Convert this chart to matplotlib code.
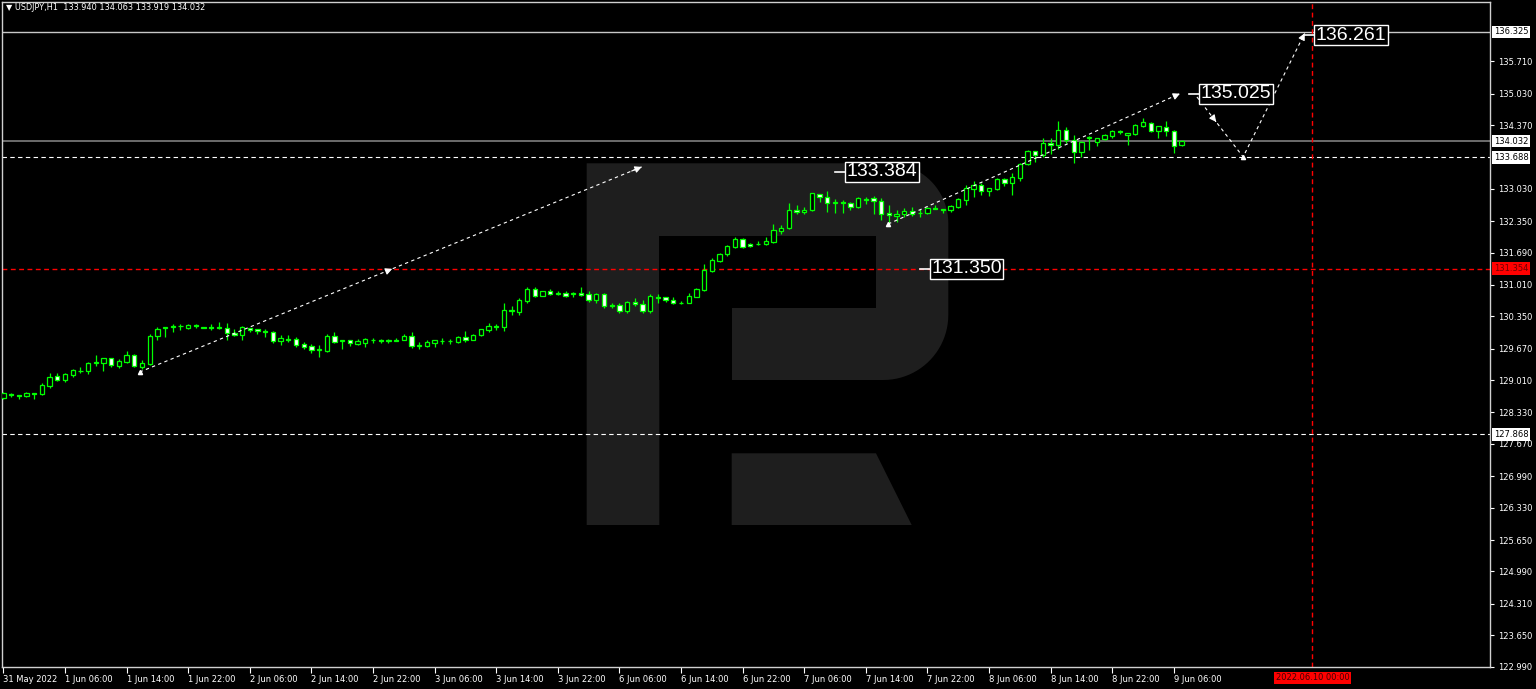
import matplotlib
matplotlib.use('Agg')
import matplotlib.pyplot as plt
import matplotlib.transforms as mtransforms
from matplotlib import font_manager
from matplotlib.patches import Polygon
import numpy as np

W, H = 1536, 689

# USDJPY H1, bar 0 = 31 May 2022 22:00
opens = [128.63, 128.71, 128.69, 128.67, 128.74, 128.71, 128.89, 129.09, 129.01, 129.12,
         129.21, 129.20, 129.38, 129.38, 129.47, 129.31, 129.39, 129.53, 129.29, 129.34,
         129.93, 130.10, 130.13, 130.15, 130.11, 130.17, 130.12, 130.12, 130.12, 130.11,
         130.01, 129.96, 130.11, 130.08, 130.04, 130.02, 129.83, 129.88, 129.88, 129.76,
         129.72, 129.65, 129.63, 129.93, 129.84, 129.85, 129.76, 129.80, 129.86, 129.85,
         129.84, 129.84, 129.86, 129.94, 129.73, 129.73, 129.79, 129.84, 129.83, 129.81,
         129.92, 129.86, 129.95, 130.06, 130.15, 130.12, 130.47, 130.44, 130.67, 130.92,
         130.78, 130.88, 130.82, 130.85, 130.82, 130.85, 130.81, 130.69, 130.81, 130.58,
         130.59, 130.46, 130.65, 130.60, 130.46, 130.76, 130.75, 130.69, 130.62, 130.64,
         130.76, 130.91, 131.31, 131.52, 131.65, 131.81, 131.97, 131.88, 131.86, 131.87,
         131.91, 132.15, 132.20, 132.58, 132.55, 132.58, 132.93, 132.86, 132.73, 132.75,
         132.73, 132.65, 132.82, 132.83, 132.77, 132.52, 132.45, 132.49, 132.56, 132.52,
         132.52, 132.62, 132.59, 132.59, 132.65, 132.80, 133.03, 133.12, 132.98, 133.02,
         133.23, 133.16, 133.26, 133.55, 133.82, 133.74, 133.99, 133.95, 134.26, 134.06,
         133.81, 134.10, 134.01, 134.07, 134.13, 134.24, 134.16, 134.18, 134.35, 134.42,
         134.25, 134.32, 134.24, 133.940]
highs = [128.75, 128.74, 128.70, 128.75, 128.74, 128.94, 129.17, 129.15, 129.15, 129.24,
         129.29, 129.40, 129.54, 129.47, 129.48, 129.45, 129.62, 129.56, 129.43, 129.97,
         130.12, 130.12, 130.18, 130.18, 130.19, 130.19, 130.13, 130.19, 130.23, 130.20,
         130.09, 130.15, 130.11, 130.08, 130.09, 130.04, 129.96, 129.96, 129.91, 129.82,
         129.76, 129.74, 129.98, 130.02, 129.86, 129.86, 129.88, 129.89, 129.89, 129.88,
         129.88, 129.90, 129.97, 130.02, 129.82, 129.86, 129.85, 129.89, 129.88, 129.94,
         130.04, 129.98, 130.09, 130.20, 130.19, 130.63, 130.57, 130.73, 130.96, 130.96,
         130.89, 130.92, 130.88, 130.88, 130.86, 130.97, 130.88, 130.85, 130.83, 130.64,
         130.62, 130.67, 130.74, 130.69, 130.82, 130.81, 130.76, 130.75, 130.68, 130.83,
         130.95, 131.44, 131.58, 131.69, 131.85, 132.02, 132.00, 131.90, 131.93, 132.02,
         132.28, 132.27, 132.73, 132.69, 132.65, 132.95, 132.93, 132.98, 132.82, 132.79,
         132.75, 132.85, 132.86, 132.88, 132.83, 132.68, 132.59, 132.62, 132.64, 132.60,
         132.64, 132.69, 132.61, 132.69, 132.84, 133.10, 133.19, 133.15, 133.05, 133.26,
         133.25, 133.36, 133.58, 133.85, 133.82, 134.10, 134.10, 134.45, 134.32, 134.17,
         134.04, 134.13, 134.10, 134.18, 134.27, 134.27, 134.21, 134.39, 134.51, 134.44,
         134.35, 134.45, 134.27, 134.063]
lows = [128.61, 128.65, 128.61, 128.65, 128.62, 128.70, 128.85, 128.99, 128.96, 129.08,
        129.15, 129.14, 129.31, 129.20, 129.28, 129.26, 129.38, 129.29, 129.24, 129.33,
        129.86, 129.92, 130.03, 130.06, 130.08, 130.10, 130.10, 130.06, 130.09, 129.86,
        129.94, 129.86, 130.03, 129.97, 129.92, 129.80, 129.75, 129.81, 129.70, 129.67,
        129.58, 129.49, 129.60, 129.78, 129.66, 129.72, 129.74, 129.70, 129.80, 129.80,
        129.80, 129.84, 129.85, 129.69, 129.66, 129.70, 129.70, 129.77, 129.77, 129.78,
        129.81, 129.85, 129.94, 130.03, 130.06, 130.05, 130.37, 130.38, 130.64, 130.76,
        130.77, 130.79, 130.79, 130.76, 130.76, 130.78, 130.66, 130.62, 130.52, 130.52,
        130.41, 130.41, 130.57, 130.43, 130.43, 130.64, 130.66, 130.60, 130.60, 130.63,
        130.75, 130.89, 131.29, 131.50, 131.62, 131.79, 131.79, 131.80, 131.84, 131.85,
        131.89, 132.07, 132.18, 132.49, 132.49, 132.56, 132.76, 132.55, 132.53, 132.52,
        132.58, 132.62, 132.71, 132.51, 132.37, 132.31, 132.34, 132.44, 132.46, 132.44,
        132.50, 132.60, 132.53, 132.55, 132.63, 132.69, 132.85, 132.90, 132.88, 133.00,
        133.09, 132.90, 133.20, 133.53, 133.60, 133.70, 133.77, 133.86, 133.99, 133.57,
        133.69, 133.85, 133.92, 134.06, 134.09, 134.18, 133.94, 134.17, 134.32, 134.23,
        134.09, 134.13, 133.79, 133.919]
closes = [128.73, 128.70, 128.68, 128.74, 128.72, 128.90, 129.08, 129.01, 129.13, 129.22,
          129.20, 129.38, 129.39, 129.47, 129.32, 129.41, 129.54, 129.31, 129.36, 129.94,
          130.08, 130.12, 130.15, 130.14, 130.17, 130.15, 130.11, 130.11, 130.10, 130.01,
          129.96, 130.13, 130.07, 130.04, 130.03, 129.83, 129.89, 129.86, 129.74, 129.70,
          129.64, 129.66, 129.93, 129.82, 129.86, 129.78, 129.84, 129.87, 129.85, 129.84,
          129.85, 129.86, 129.94, 129.73, 129.75, 129.82, 129.85, 129.83, 129.84, 129.92,
          129.86, 129.96, 130.08, 130.15, 130.12, 130.48, 130.48, 130.69, 130.93, 130.78,
          130.88, 130.81, 130.85, 130.78, 130.85, 130.79, 130.69, 130.82, 130.57, 130.57,
          130.46, 130.65, 130.60, 130.46, 130.77, 130.74, 130.69, 130.62, 130.63, 130.77,
          130.92, 131.32, 131.53, 131.66, 131.82, 131.97, 131.81, 131.82, 131.88, 131.93,
          132.16, 132.21, 132.59, 132.55, 132.58, 132.94, 132.86, 132.73, 132.75, 132.73,
          132.65, 132.84, 132.80, 132.77, 132.51, 132.47, 132.51, 132.57, 132.50, 132.53,
          132.63, 132.60, 132.61, 132.67, 132.82, 133.05, 133.10, 132.98, 133.04, 133.24,
          133.16, 133.28, 133.55, 133.82, 133.75, 133.99, 133.96, 134.27, 134.06, 133.81,
          134.02, 134.11, 134.09, 134.16, 134.24, 134.22, 134.21, 134.37, 134.43, 134.25,
          134.34, 134.24, 133.93, 134.032]

time_labels = ['31 May 2022', '1 Jun 06:00', '1 Jun 14:00', '1 Jun 22:00', '2 Jun 06:00',
               '2 Jun 14:00', '2 Jun 22:00', '3 Jun 06:00', '3 Jun 14:00', '3 Jun 22:00',
               '6 Jun 06:00', '6 Jun 14:00', '6 Jun 22:00', '7 Jun 06:00', '7 Jun 14:00',
               '7 Jun 22:00', '8 Jun 06:00', '8 Jun 14:00', '8 Jun 22:00', '9 Jun 06:00']
price_ticks = [135.710, 135.030, 134.370, 133.030, 132.350, 131.690, 131.010, 130.350,
               129.670, 129.010, 128.330, 127.670, 126.990, 126.330, 125.650, 124.990,
               124.310, 123.650, 122.990]

top_level = 136.325
bid = 134.032
support = 133.688
low_level = 127.868
red_level = 131.354
red_time_bar = 170          # 2022.06.10 00:00

# forecast path (bar index, price)
trend1_x, trend1_y = [17.7, 82.9], [129.18, 133.49]
trend2_x, trend2_y = [114.9, 152.8], [132.29, 135.03]
zig_x, zig_y = [155.0, 161.0, 169.0], [134.96, 133.70, 136.30]
marks = [(109.3, 133.384), (120.3, 131.350), (155.3, 135.025), (170.2, 136.261)]

GREEN = '#00ff00'

fig = plt.figure(figsize=(W / 100, H / 100), dpi=100, facecolor='black')
ax = fig.add_axes([2 / W, 1 - 667 / H, 1488 / W, 665 / H])
ax.set_facecolor('black')
ax.set_xlim(-0.18, 193.06)
ax.set_ylim(122.982, 136.955)

# watermark logo, drawn in figure pixels
def fp(pts):
    return [(x / W, 1 - y / H) for x, y in pts]

def arc(cx, cy, r, a0, a1, n=24):
    a = np.radians(np.linspace(a0, a1, n))
    return list(zip(cx + r * np.cos(a), cy + r * np.sin(a)))

outer = [(586.7, 163.3)] + arc(888.3, 223.3, 60, -90, 0) + arc(883.3, 315, 65, 0, 90) + \
        [(659.3, 380), (659.3, 525), (586.7, 525)]
hole = [(659.3, 236), (876, 236), (876, 308.3), (731.7, 308.3), (731.7, 380), (659.3, 380)]
leg = [(731.7, 453.3), (876, 453.3), (911.7, 525), (731.7, 525)]
for pts, col in [(outer, '#1e1e1e'), (hole, 'black'), (leg, '#1e1e1e')]:
    ax.add_patch(Polygon(fp(pts), closed=True, fc=col, ec='none',
                         transform=fig.transFigure, zorder=0.5))

# levels
ax.axhline(top_level, color='#c8c8c8', lw=1.0, zorder=1)
ax.axhline(bid, color='#6c6c6c', lw=1.4, zorder=1)
ax.axhline(support, color='white', lw=0.8, dashes=(4, 3), zorder=1)
ax.axhline(low_level, color='white', lw=0.8, dashes=(4, 3), zorder=1)
ax.axhline(red_level, color='#ff0000', lw=1.0, dashes=(3.5, 2.5), zorder=1)
ax.axvline(red_time_bar, color='#ff0000', lw=1.0, dashes=(3.5, 2.5), zorder=1)

# candles
o = np.array(opens); h = np.array(highs); l = np.array(lows); c = np.array(closes)
xs = np.arange(len(o))
ax.vlines(xs, l, h, color=GREEN, lw=0.9, zorder=2)
fills = ['black' if cc >= oo else 'white' for oo, cc in zip(o, c)]
ax.bar(xs, np.abs(c - o), bottom=np.minimum(o, c), width=0.56, color=fills,
       edgecolor=GREEN, linewidth=0.9, zorder=3)

# forecast lines
def head(x0, y0, x1, y1):
    ax.annotate('', xy=(x1, y1), xytext=(x1 - (x1 - x0) * 0.02, y1 - (y1 - y0) * 0.02),
                arrowprops=dict(arrowstyle='-|>,head_length=0.4,head_width=0.2',
                                color='white', lw=0.8, shrinkA=0, shrinkB=0), zorder=6)

for lx, ly in [(trend1_x, trend1_y), (trend2_x, trend2_y), (zig_x, zig_y)]:
    ax.plot(lx, ly, color='white', lw=0.8, dashes=(3, 3), zorder=5)
head(trend1_x[0], trend1_y[0], trend1_x[1], trend1_y[1])
mx = 50.5
head(trend1_x[0], trend1_y[0], mx, np.interp(mx, trend1_x, trend1_y))
head(trend2_x[0], trend2_y[0], trend2_x[1], trend2_y[1])
mx = 157.5
head(zig_x[0], zig_y[0], mx, np.interp(mx, zig_x[:2], zig_y[:2]))
mx = 164.9
head(zig_x[1], zig_y[1], mx, np.interp(mx, zig_x[1:], zig_y[1:]))
head(zig_x[1], zig_y[1], zig_x[2], zig_y[2])
ax.plot([trend1_x[0], trend2_x[0], zig_x[1]], [trend1_y[0], trend2_y[0], zig_y[1]],
        ls='none', marker='^', ms=3, color='white', zorder=6)

names = {f.name for f in font_manager.fontManager.ttflist}
if 'Liberation Sans Narrow' in names:
    big_font, big_size = 'Liberation Sans Narrow', 16.5
else:
    big_font, big_size = 'Liberation Sans', 14

for mxp, mp in marks:
    ax.plot([mxp - 1.3, mxp], [mp, mp], color='white', lw=1.2, zorder=6)
    ax.text(mxp + 0.2, mp, f'{mp:.3f}', ha='left', va='center', color='white',
            family=big_font, fontsize=big_size, zorder=7,
            bbox=dict(boxstyle='square,pad=0.08', fc='black', ec='white', lw=1.0))

# axes styling
for s in ax.spines.values():
    s.set_color('#d0d0d0')
    s.set_linewidth(1.0)
ax.yaxis.tick_right()
ax.set_yticks(price_ticks, [f'{v:.3f}' for v in price_ticks])
ax.set_xticks(list(range(0, 153, 8)), time_labels)
for t in ax.get_xticklabels():
    t.set_ha('left')
ax.tick_params(axis='both', colors='white', labelsize=6, width=0.8)
ax.tick_params(axis='y', length=3, pad=3)
ax.tick_params(axis='x', length=4, pad=2)

ybl = mtransforms.blended_transform_factory(ax.transAxes, ax.transData)
for v, fc, tc in [(top_level, 'white', 'black'), (bid, 'white', 'black'),
                  (support, 'white', 'black'), (low_level, 'white', 'black'),
                  (red_level, '#ff0000', '#700000')]:
    ax.text(1 + 4 / 1488, v, f'{v:.3f}', transform=ybl, ha='left', va='center',
            fontsize=6, color=tc, clip_on=False, zorder=10,
            bbox=dict(boxstyle='square,pad=0.2', fc=fc, ec='none'))

xbl = mtransforms.blended_transform_factory(ax.transData, ax.transAxes)
ax.text(red_time_bar, -11 / 665, '2022.06.10 00:00', transform=xbl, ha='center', va='center',
        fontsize=6, color='#400000', clip_on=False, zorder=10,
        bbox=dict(boxstyle='square,pad=0.2', fc='#ff0000', ec='none'))

fig.text(6 / W, 1 - 8 / H, '\u25bc USDJPY,H1  133.940 134.063 133.919 134.032',
         color='white', fontsize=5.9, ha='left', va='center')

fig.savefig('out.png', dpi=100, facecolor='black')
